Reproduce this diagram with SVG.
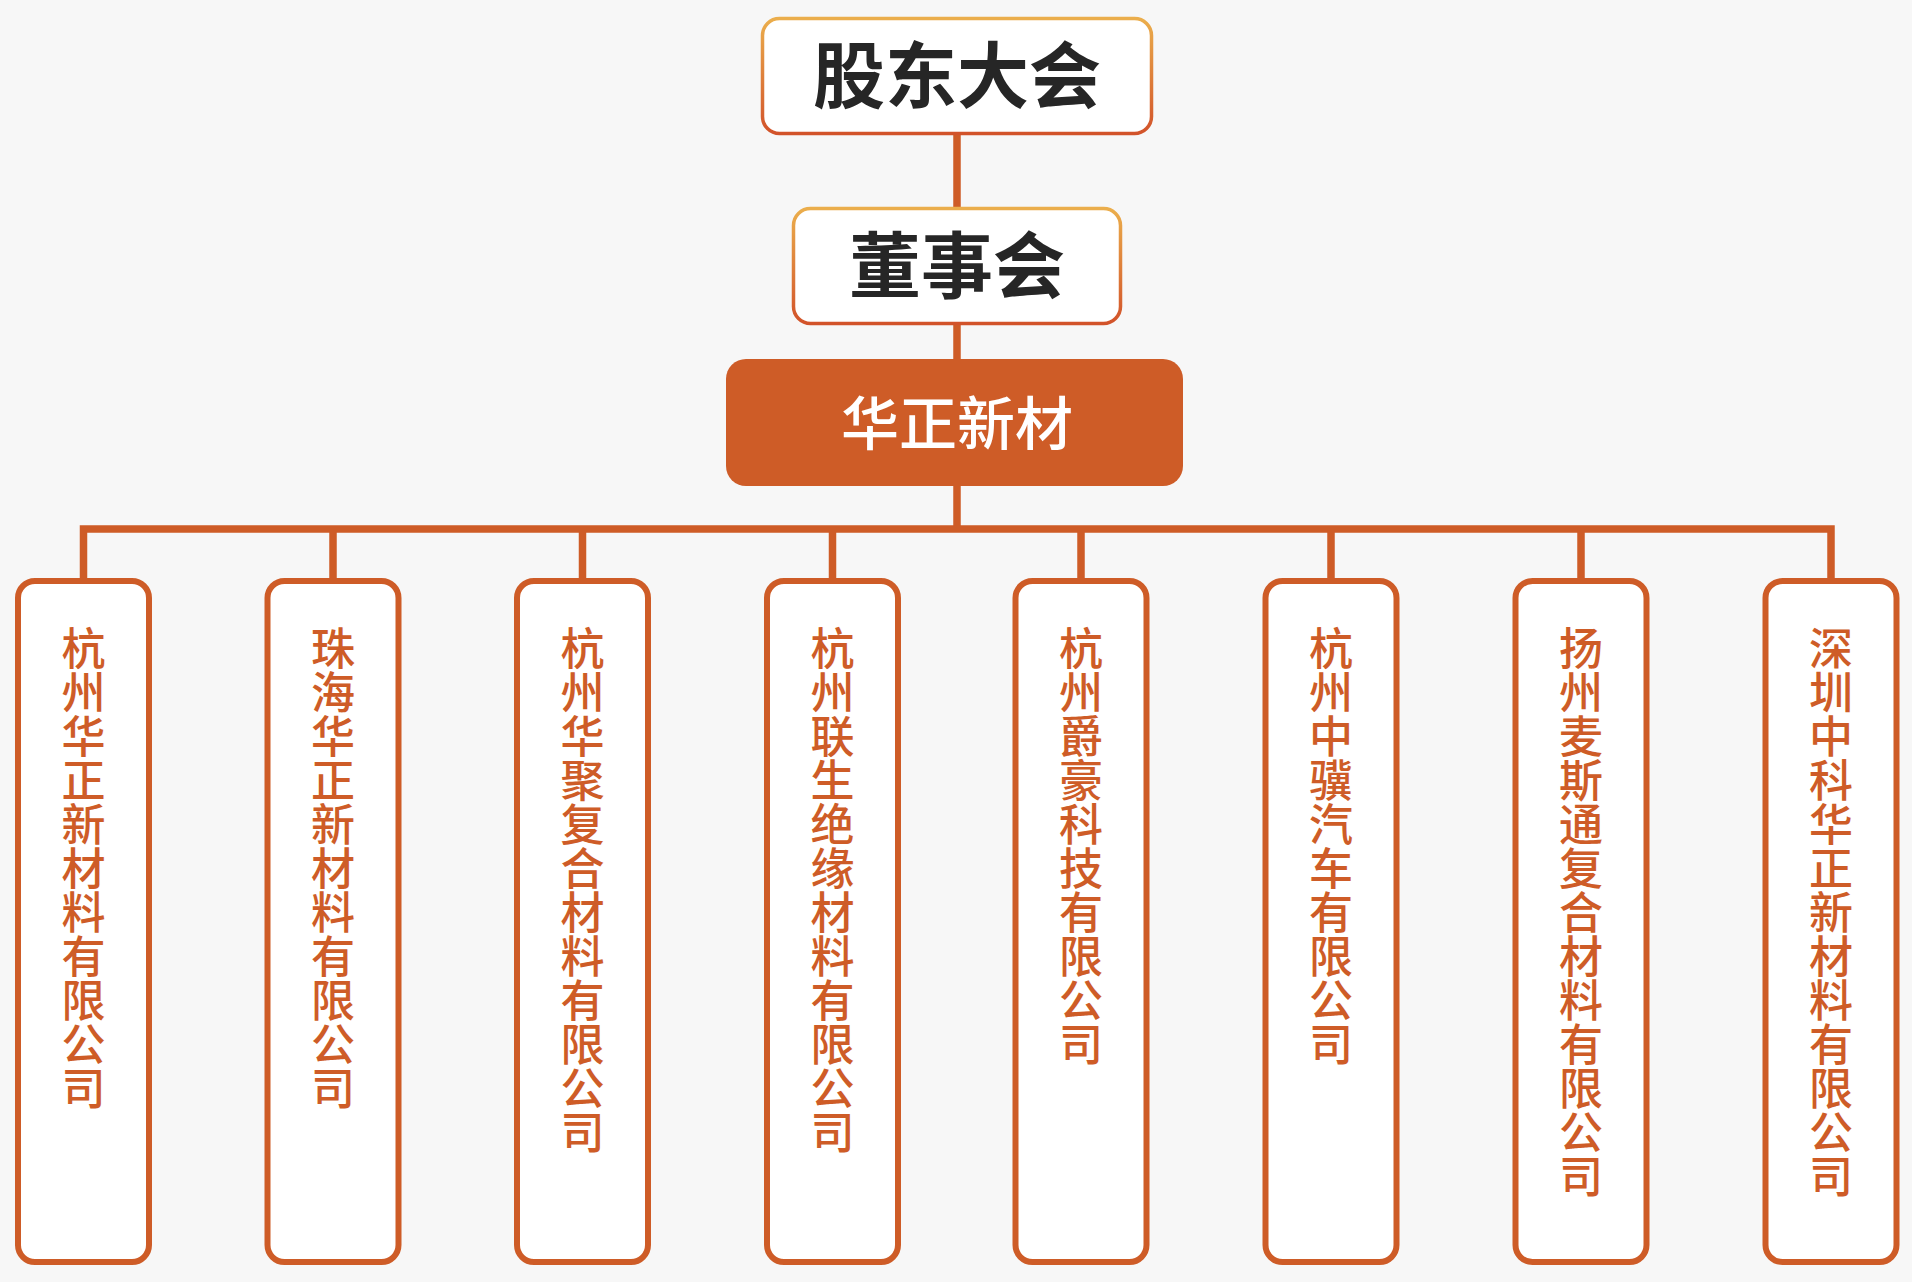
<svg xmlns="http://www.w3.org/2000/svg" width="1912" height="1282" viewBox="0 0 1912 1282">
<defs>
<linearGradient id="gold" x1="0" y1="0" x2="0" y2="1">
<stop offset="0" stop-color="#EBAE4C"/>
<stop offset="1" stop-color="#D2532A"/>
</linearGradient>
<style>
.conn{fill:none;stroke:#CE5C27;stroke-width:7.5;stroke-linejoin:miter;stroke-linecap:butt}
.top{fill:#FFFFFF;stroke:url(#gold);stroke-width:3.5}
.topt{font-family:"Noto Sans CJK SC","Noto Sans CJK JP",sans-serif;font-weight:700;font-size:72px;fill:#262626;text-anchor:middle}
.main{fill:#CE5C27}
.maint{font-family:"Noto Sans CJK SC","Noto Sans CJK JP",sans-serif;font-weight:500;font-size:58px;fill:#FFFFFF;text-anchor:middle}
.sub{fill:#FFFFFF;stroke:#CE5C27;stroke-width:6}
.subt{font-family:"Noto Sans CJK SC","Noto Sans CJK JP",sans-serif;font-weight:500;font-size:44px;fill:#CE5C27;writing-mode:vertical-rl;text-orientation:upright;text-anchor:start}
</style>
</defs>
<rect x="0" y="0" width="1912" height="1282" fill="#F7F7F7"/>
<g id="connectors">
<path class="conn" d="M957 135 V208 M957 325 V360 M957 486 V529"/>
<path class="conn" d="M83.5 579 V529 H1831 V579"/>
<path class="conn" d="M333 529 V579 M582.5 529 V579 M832.5 529 V579 M1081 529 V579 M1331 529 V579 M1581 529 V579"/>
</g>
<g id="node-gudong">
<rect class="top" x="762.5" y="18.5" width="389" height="115" rx="17"/>
<text class="topt" x="957" y="102">股东大会</text>
</g>
<g id="node-dongshi">
<rect class="top" x="793.5" y="208.5" width="327" height="115" rx="17"/>
<text class="topt" x="957" y="292">董事会</text>
</g>
<g id="node-huazheng">
<rect class="main" x="726" y="359" width="457" height="127" rx="20"/>
<text class="maint" x="957" y="445">华正新材</text>
</g>
<g id="node-1">
<rect class="sub" x="18" y="581" width="131" height="681" rx="17"/>
<text class="subt" x="83.5" y="626">杭州华正新材料有限公司</text>
</g>
<g id="node-2">
<rect class="sub" x="267.5" y="581" width="131" height="681" rx="17"/>
<text class="subt" x="333" y="626">珠海华正新材料有限公司</text>
</g>
<g id="node-3">
<rect class="sub" x="517" y="581" width="131" height="681" rx="17"/>
<text class="subt" x="582.5" y="626">杭州华聚复合材料有限公司</text>
</g>
<g id="node-4">
<rect class="sub" x="767" y="581" width="131" height="681" rx="17"/>
<text class="subt" x="832.5" y="626">杭州联生绝缘材料有限公司</text>
</g>
<g id="node-5">
<rect class="sub" x="1015.5" y="581" width="131" height="681" rx="17"/>
<text class="subt" x="1081" y="626">杭州爵豪科技有限公司</text>
</g>
<g id="node-6">
<rect class="sub" x="1265.5" y="581" width="131" height="681" rx="17"/>
<text class="subt" x="1331" y="626">杭州中骥汽车有限公司</text>
</g>
<g id="node-7">
<rect class="sub" x="1515.5" y="581" width="131" height="681" rx="17"/>
<text class="subt" x="1581" y="626">扬州麦斯通复合材料有限公司</text>
</g>
<g id="node-8">
<rect class="sub" x="1765.5" y="581" width="131" height="681" rx="17"/>
<text class="subt" x="1831" y="626">深圳中科华正新材料有限公司</text>
</g>
</svg>
